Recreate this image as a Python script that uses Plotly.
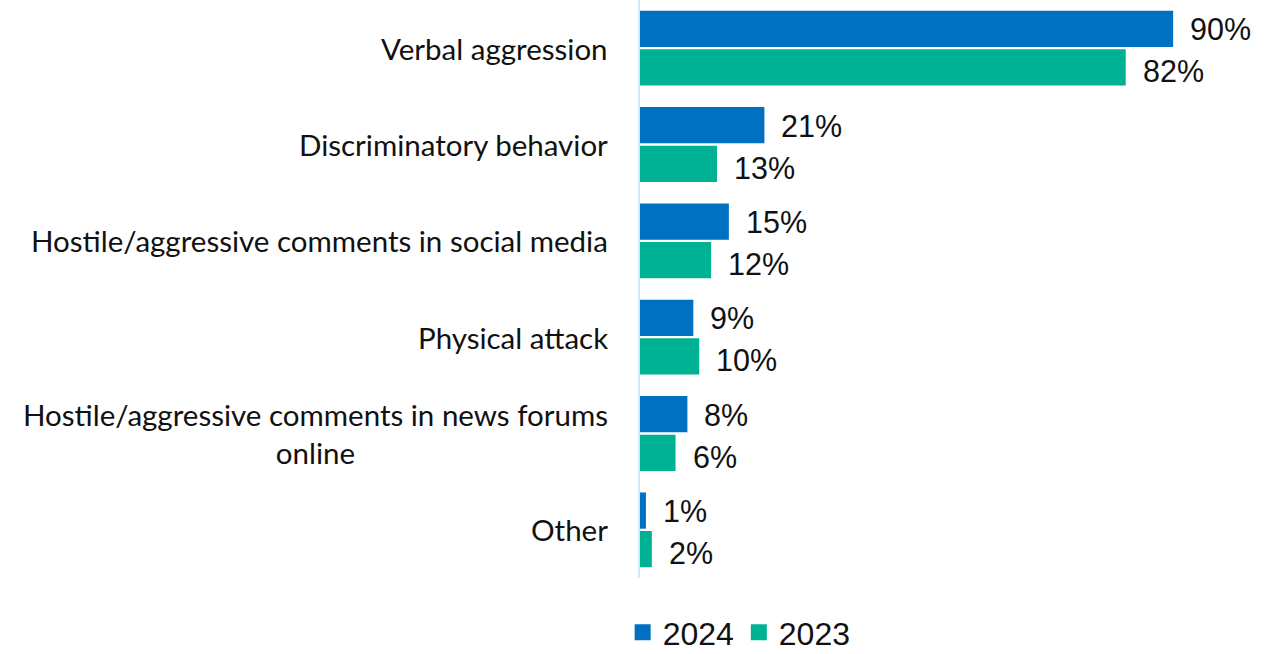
import plotly.graph_objects as go

categories = [
    "Verbal aggression",
    "Discriminatory behavior",
    "Hostile/aggressive comments in social media",
    "Physical attack",
    "Hostile/aggressive comments in news forums<br>online",
    "Other",
]
values_2024 = [90, 21, 15, 9, 8, 1]
values_2023 = [82, 13, 12, 10, 6, 2]
series = [
    ("2024", values_2024, "#0070C0", 19),
    ("2023", values_2023, "#00B294", -23),
]

LABEL_FONT = "Lato, 'Open Sans', sans-serif"
VALUE_FONT = "'Liberation Sans', Arial, sans-serif"

fig = go.Figure()
annotations = []
for name, vals, color, yshift in series:
    fig.add_trace(go.Bar(
        name=name, x=vals, y=categories, orientation="h",
        marker=dict(color=color, line=dict(width=0)),
        hoverinfo="skip", showlegend=False,
    ))
    for cat, v in zip(categories, vals):
        annotations.append(dict(
            x=v, y=cat, xref="x", yref="y", text=f"{v}%",
            showarrow=False, xanchor="left", yanchor="middle",
            xshift=15, yshift=yshift,
            font=dict(family=VALUE_FONT, size=30.5, color="#111111"),
        ))

# legend entries with larger square swatches
for name, vals, color, _ in series:
    fig.add_trace(go.Scatter(
        name=name, x=[None], y=[None], mode="markers",
        marker=dict(symbol="square", size=17, color=color),
        hoverinfo="skip", showlegend=True,
    ))

# category labels, centred multi-line text set right of the axis gap
for cat in categories:
    annotations.append(dict(
        x=0, y=cat, xref="paper", yref="y", text=cat,
        showarrow=False, xanchor="right", yanchor="middle",
        xshift=-30, align="center",
        font=dict(family=LABEL_FONT, size=29.5, color="#111111"),
    ))

fig.update_layout(
    width=1281, height=654,
    margin=dict(l=640, r=51, t=0, b=76, autoexpand=False),
    paper_bgcolor="white", plot_bgcolor="white",
    barmode="group", bargap=0.2, bargroupgap=0.06,
    showlegend=True,
    legend=dict(
        orientation="h", xref="container", yref="container",
        x=0.577, xanchor="center", y=0.033, yanchor="middle",
        font=dict(family=VALUE_FONT, size=32, color="#111111"),
        itemwidth=30, traceorder="normal",
    ),
    annotations=annotations,
    xaxis=dict(range=[0, 99.6], showgrid=False, zeroline=False,
               showticklabels=False, showline=False),
    yaxis=dict(categoryorder="array", categoryarray=categories,
               autorange="reversed", showticklabels=False, showgrid=False,
               showline=True, linecolor="#D6E6F4", linewidth=2, ticks=""),
)

fig.write_html("out.html")
